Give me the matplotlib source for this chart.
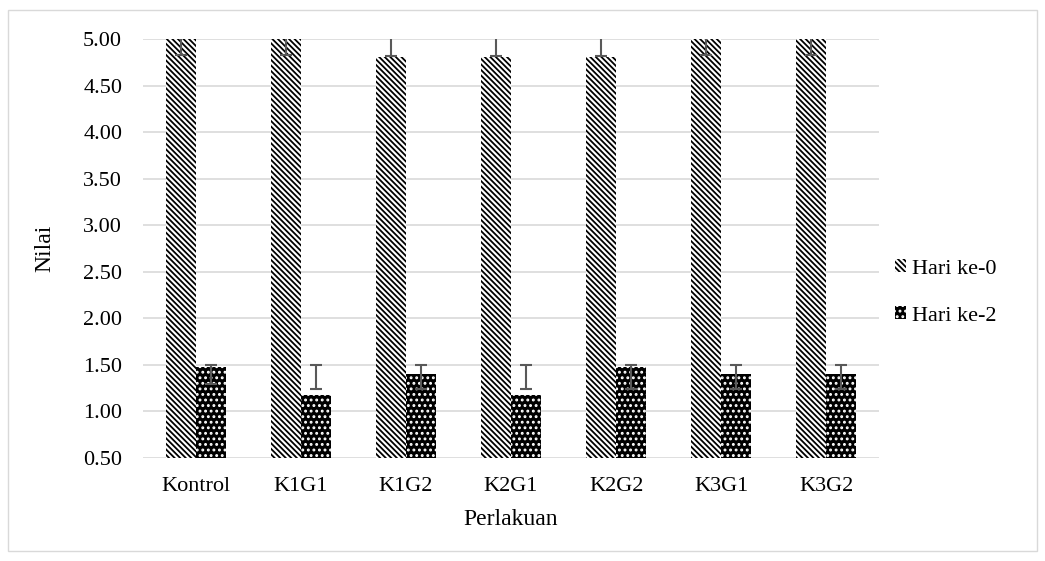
import numpy as np
import matplotlib
matplotlib.use("Agg")
import matplotlib.pyplot as plt
from matplotlib.patches import Rectangle

plt.rcParams['font.family'] = ['Liberation Serif', 'DejaVu Serif']
plt.rcParams['hatch.linewidth'] = 1.3

# data
perlakuan = ['Kontrol', 'K1G1', 'K1G2', 'K2G1', 'K2G2', 'K3G1', 'K3G2']
hari0 = [5.00, 5.00, 4.81, 4.81, 4.81, 5.00, 5.00]
hari0_err_lo = [4.83, 4.83, 4.82, 4.82, 4.82, 4.83, 4.83]
hari0_err_hi = [5.17, 5.17, 5.17, 5.17, 5.17, 5.17, 5.17]
hari2 = [1.48, 1.18, 1.40, 1.18, 1.48, 1.40, 1.40]
hari2_err_lo = [1.29, 1.24, 1.24, 1.24, 1.24, 1.24, 1.24]
hari2_err_hi = [1.50, 1.50, 1.50, 1.50, 1.50, 1.50, 1.50]
yticks = np.arange(0.5, 5.01, 0.5)

fig = plt.figure(figsize=(10.45, 5.61), dpi=100)
# bingkai luar
fig.patches.append(Rectangle((0.008, 0.017), 0.984, 0.966, transform=fig.transFigure,
                             fill=False, edgecolor='#d9d9d9', linewidth=1))
ax = fig.add_axes([143 / 1045, 1 - 458 / 561, (879 - 143) / 1045, (458 - 39) / 561])

x = np.arange(len(perlakuan))
w = 0.285
ax.bar(x - w / 2, hari0, w, color='white', edgecolor='black',
       hatch='\\\\\\\\\\\\', linewidth=0, label='Hari ke-0', zorder=2)
ax.bar(x + w / 2, hari2, w, color='black', edgecolor='white',
       hatch='...', linewidth=0, label='Hari ke-2', zorder=2)

# error bar (asimetris)
for xs, lo, hi in [(x - w / 2, hari0_err_lo, hari0_err_hi), (x + w / 2, hari2_err_lo, hari2_err_hi)]:
    lo = np.array(lo)
    hi = np.array(hi)
    mid = (lo + hi) / 2
    ax.errorbar(xs, mid, yerr=(hi - lo) / 2, fmt='none', ecolor='#595959',
                elinewidth=1.5, capsize=4.5, capthick=1.5, zorder=3)

ax.set_ylim(0.5, 5.0)
ax.set_xlim(-0.5, len(perlakuan) - 0.5)
ax.set_yticks(yticks)
ax.set_yticklabels([f'{v:.2f}' for v in yticks])
ax.set_xticks(x)
ax.set_xticklabels(perlakuan)
ax.tick_params(length=0, labelsize=16)
ax.tick_params(axis='y', pad=15)
ax.tick_params(axis='x', pad=14)
ax.yaxis.grid(True, color='#d9d9d9', linewidth=1.2, zorder=0)
ax.set_axisbelow(True)
for s in ax.spines.values():
    s.set_visible(False)

ax.set_ylabel('Nilai', fontsize=17, labelpad=20)
ax.set_xlabel('Perlakuan', fontsize=17, labelpad=9)

ax.legend(loc='center left', bbox_to_anchor=(0.995, 0.395), frameon=False, fontsize=16,
          handlelength=0.5, handleheight=0.5, handletextpad=0.25, labelspacing=1.25)

fig.savefig('out.png', dpi=100)
